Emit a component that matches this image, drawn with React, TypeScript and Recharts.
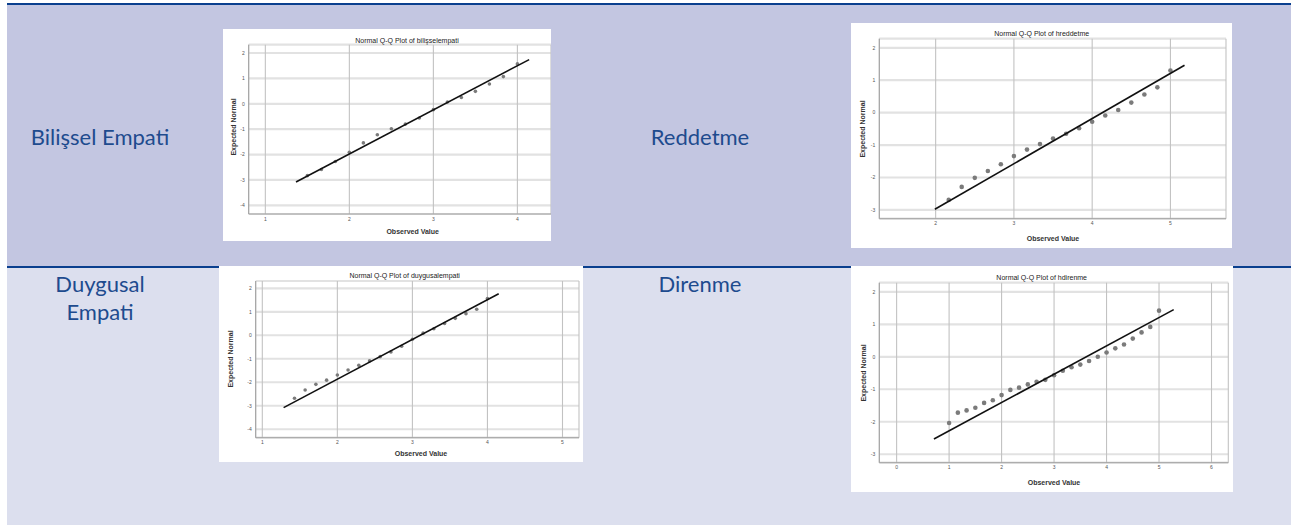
import React from 'react';
import { CartesianGrid, Scatter, ScatterChart, XAxis, YAxis } from 'recharts';

// Bilişsel Empati
const bilisselObserved = [1.5, 1.667, 1.833, 2, 2.167, 2.333, 2.5, 2.667, 2.833, 3, 3.167, 3.333, 3.5, 3.667, 3.833, 4];
const bilisselExpected = [-2.83, -2.59, -2.27, -1.91, -1.54, -1.22, -0.98, -0.8, -0.56, -0.23, 0.07, 0.25, 0.49, 0.78, 1.07, 1.57];
const bilisselLineX = [1.365, 4.14];
const bilisselLineY = [-3.08, 1.74];
const bilisselXTicks = [1, 2, 3, 4];
const bilisselYTicks = [-4, -3, -2, -1, 0, 1, 2];

// Reddetme
const reddetmeObserved = [2.167, 2.333, 2.5, 2.667, 2.833, 3, 3.167, 3.333, 3.5, 3.667, 3.833, 4, 4.167, 4.333, 4.5, 4.667, 4.833, 5];
const reddetmeExpected = [-2.69, -2.29, -2.01, -1.8, -1.59, -1.34, -1.14, -0.97, -0.8, -0.65, -0.48, -0.28, -0.09, 0.08, 0.31, 0.56, 0.78, 1.3];
const reddetmeLineX = [1.99, 5.18];
const reddetmeLineY = [-2.98, 1.46];
const reddetmeXTicks = [2, 3, 4, 5];
const reddetmeYTicks = [-3, -2, -1, 0, 1, 2];

// Duygusal Empati
const duygusalObserved = [1.429, 1.571, 1.714, 1.857, 2, 2.143, 2.286, 2.429, 2.571, 2.714, 2.857, 3, 3.143, 3.286, 3.429, 3.571, 3.714, 3.857, 4];
const duygusalExpected = [-2.68, -2.33, -2.09, -1.91, -1.69, -1.48, -1.28, -1.09, -0.91, -0.71, -0.47, -0.17, 0.09, 0.28, 0.5, 0.72, 0.92, 1.11, 1.56];
const duygusalLineX = [1.284, 4.15];
const duygusalLineY = [-3.08, 1.77];
const duygusalXTicks = [1, 2, 3, 4, 5];
const duygusalYTicks = [-4, -3, -2, -1, 0, 1, 2];

// Direnme
const direnmeObserved = [1, 1.167, 1.333, 1.5, 1.667, 1.833, 2, 2.167, 2.333, 2.5, 2.667, 2.833, 3, 3.167, 3.333, 3.5, 3.667, 3.833, 4, 4.167, 4.333, 4.5, 4.667, 4.833, 5];
const direnmeExpected = [-2.04, -1.72, -1.65, -1.57, -1.42, -1.34, -1.18, -1.02, -0.95, -0.85, -0.77, -0.71, -0.57, -0.43, -0.32, -0.24, -0.13, 0, 0.13, 0.26, 0.38, 0.56, 0.75, 0.92, 1.42];
const direnmeLineX = [0.711, 5.28];
const direnmeLineY = [-2.53, 1.45];
const direnmeXTicks = [0, 1, 2, 3, 4, 5, 6];
const direnmeYTicks = [-3, -2, -1, 0, 1, 2];

const LABEL_COLOR = '#1E4B8E';
const SPSS_FONT = '"Liberation Sans", Arial, sans-serif';

type Layout = {
  box: { x: number; y: number; w: number; h: number };
  plot: { left: number; right: number; top: number; bottom: number };
  xDomain: [number, number];
  yDomain: [number, number];
  title: [number, number];
  yTitle: [number, number];
  xTitle: [number, number];
  dotR: number;
};

interface QQProps {
  title: string;
  observed: number[];
  expected: number[];
  lineX: number[];
  lineY: number[];
  xTicks: number[];
  yTicks: number[];
  layout: Layout;
}

function QQPlot({ title, observed, expected, lineX, lineY, xTicks, yTicks, layout }: QQProps) {
  const { box, plot } = layout;
  const points = observed.map((x, i) => ({ x, y: expected[i] }));
  const fit = lineX.map((x, i) => ({ x, y: lineY[i] }));
  const tick = { fontSize: 5, fill: '#555', fontFamily: SPSS_FONT };

  return (
    <div
      style={{
        position: 'absolute',
        left: box.x,
        top: box.y,
        width: box.w,
        height: box.h,
        background: '#fff',
        overflow: 'hidden',
        fontFamily: SPSS_FONT,
      }}
    >
      <ScatterChart
        width={box.w}
        height={box.h}
        margin={{ top: plot.top, right: box.w - plot.right, bottom: 0, left: 0 }}
      >
        <CartesianGrid vertical={false} stroke="#e2e2e2" strokeWidth={2.2} />
        <CartesianGrid horizontal={false} stroke="#c2c2c2" strokeWidth={1.1} />
        <XAxis
          type="number"
          dataKey="x"
          domain={layout.xDomain}
          ticks={xTicks}
          allowDataOverflow
          height={box.h - plot.bottom}
          axisLine={{ stroke: '#a0a0a0' }}
          tickLine={false}
          tickSize={2}
          tickMargin={1}
          tick={tick}
        />
        <YAxis
          type="number"
          dataKey="y"
          domain={layout.yDomain}
          ticks={yTicks}
          allowDataOverflow
          width={plot.left}
          axisLine={{ stroke: '#a0a0a0' }}
          tickLine={false}
          tickSize={2}
          tickMargin={2}
          tick={tick}
        />
        <Scatter
          data={points}
          isAnimationActive={false}
          shape={(p: any) => <circle cx={p.cx} cy={p.cy} r={layout.dotR} fill="#7b7b7b" />}
        />
        <Scatter
          data={fit}
          isAnimationActive={false}
          line={{ stroke: '#111', strokeWidth: 1.6 }}
          shape={() => <g />}
        />
      </ScatterChart>
      <div
        style={{
          position: 'absolute',
          left: layout.title[0],
          top: layout.title[1],
          transform: 'translate(-50%, -50%)',
          fontSize: 7,
          color: '#222',
          whiteSpace: 'nowrap',
        }}
      >
        {title}
      </div>
      <div
        style={{
          position: 'absolute',
          left: layout.yTitle[0],
          top: layout.yTitle[1],
          transform: 'translate(-50%, -50%) rotate(-90deg)',
          fontSize: 7,
          fontWeight: 'bold',
          color: '#333',
          whiteSpace: 'nowrap',
        }}
      >
        Expected Normal
      </div>
      <div
        style={{
          position: 'absolute',
          left: layout.xTitle[0],
          top: layout.xTitle[1],
          transform: 'translate(-50%, -50%)',
          fontSize: 7,
          fontWeight: 'bold',
          color: '#333',
          whiteSpace: 'nowrap',
        }}
      >
        Observed Value
      </div>
    </div>
  );
}

const bilisselLayout: Layout = {
  box: { x: 223, y: 29, w: 328, h: 212 },
  plot: { left: 25.7, right: 328, top: 15.7, bottom: 185 },
  xDomain: [0.802, 4.4],
  yDomain: [-4.34, 2.327],
  title: [184, 10.7],
  yTitle: [10, 98],
  xTitle: [189.7, 202],
  dotR: 1.8,
};

const reddetmeLayout: Layout = {
  box: { x: 851, y: 23, w: 381, h: 225 },
  plot: { left: 28.3, right: 375, top: 15.7, bottom: 195.7 },
  xDomain: [1.28, 5.71],
  yDomain: [-3.27, 2.28],
  title: [190.7, 10],
  yTitle: [10.7, 106.3],
  xTitle: [202, 215],
  dotR: 2.3,
};

const duygusalLayout: Layout = {
  box: { x: 219, y: 266, w: 364, h: 196 },
  plot: { left: 36.7, right: 360, top: 15, bottom: 171.7 },
  xDomain: [0.912, 5.22],
  yDomain: [-4.36, 2.31],
  title: [185.7, 9.3],
  yTitle: [10.7, 93.3],
  xTitle: [202, 186.7],
  dotR: 1.8,
};

const direnmeLayout: Layout = {
  box: { x: 851, y: 266, w: 382, h: 226 },
  plot: { left: 28.3, right: 377.3, top: 16.7, bottom: 196.7 },
  xDomain: [-0.33, 6.32],
  yDomain: [-3.26, 2.28],
  title: [190.7, 11],
  yTitle: [11.7, 106.7],
  xTitle: [203, 215.7],
  dotR: 2.3,
};

const labelFont = { fontFamily: 'Lato, "Open Sans", sans-serif', fontSize: 22, color: LABEL_COLOR, lineHeight: '28px' };

function CellLabel({ cx, top, lines }: { cx: number; top: number; lines: string[] }) {
  return (
    <div style={{ position: 'absolute', left: cx - 100, top, width: 200, textAlign: 'center', ...labelFont }}>
      {lines.map((l) => (
        <div key={l}>{l}</div>
      ))}
    </div>
  );
}

export default function App() {
  return (
    <div style={{ position: 'absolute', left: 0, top: 0, width: 1291, height: 525, overflow: 'hidden', background: '#fff' }}>
      <div style={{ position: 'absolute', left: 7, top: 3, width: 1284, height: 2, background: '#0A3F8E' }} />
      <div style={{ position: 'absolute', left: 7, top: 5, width: 1284, height: 261, background: '#C3C6E1' }} />
      <div style={{ position: 'absolute', left: 7, top: 266, width: 1284, height: 2, background: '#0A3F8E' }} />
      <div style={{ position: 'absolute', left: 7, top: 268, width: 1284, height: 257, background: '#DCDFEE' }} />

      <CellLabel cx={100} top={123} lines={['Bilişsel Empati']} />
      <CellLabel cx={700} top={123} lines={['Reddetme']} />
      <CellLabel cx={100} top={270} lines={['Duygusal', 'Empati']} />
      <CellLabel cx={700} top={270} lines={['Direnme']} />

      <QQPlot
        title="Normal Q-Q Plot of bilişselempati"
        observed={bilisselObserved}
        expected={bilisselExpected}
        lineX={bilisselLineX}
        lineY={bilisselLineY}
        xTicks={bilisselXTicks}
        yTicks={bilisselYTicks}
        layout={bilisselLayout}
      />
      <QQPlot
        title="Normal Q-Q Plot of hreddetme"
        observed={reddetmeObserved}
        expected={reddetmeExpected}
        lineX={reddetmeLineX}
        lineY={reddetmeLineY}
        xTicks={reddetmeXTicks}
        yTicks={reddetmeYTicks}
        layout={reddetmeLayout}
      />
      <QQPlot
        title="Normal Q-Q Plot of duygusalempati"
        observed={duygusalObserved}
        expected={duygusalExpected}
        lineX={duygusalLineX}
        lineY={duygusalLineY}
        xTicks={duygusalXTicks}
        yTicks={duygusalYTicks}
        layout={duygusalLayout}
      />
      <QQPlot
        title="Normal Q-Q Plot of hdirenme"
        observed={direnmeObserved}
        expected={direnmeExpected}
        lineX={direnmeLineX}
        lineY={direnmeLineY}
        xTicks={direnmeXTicks}
        yTicks={direnmeYTicks}
        layout={direnmeLayout}
      />
    </div>
  );
}
